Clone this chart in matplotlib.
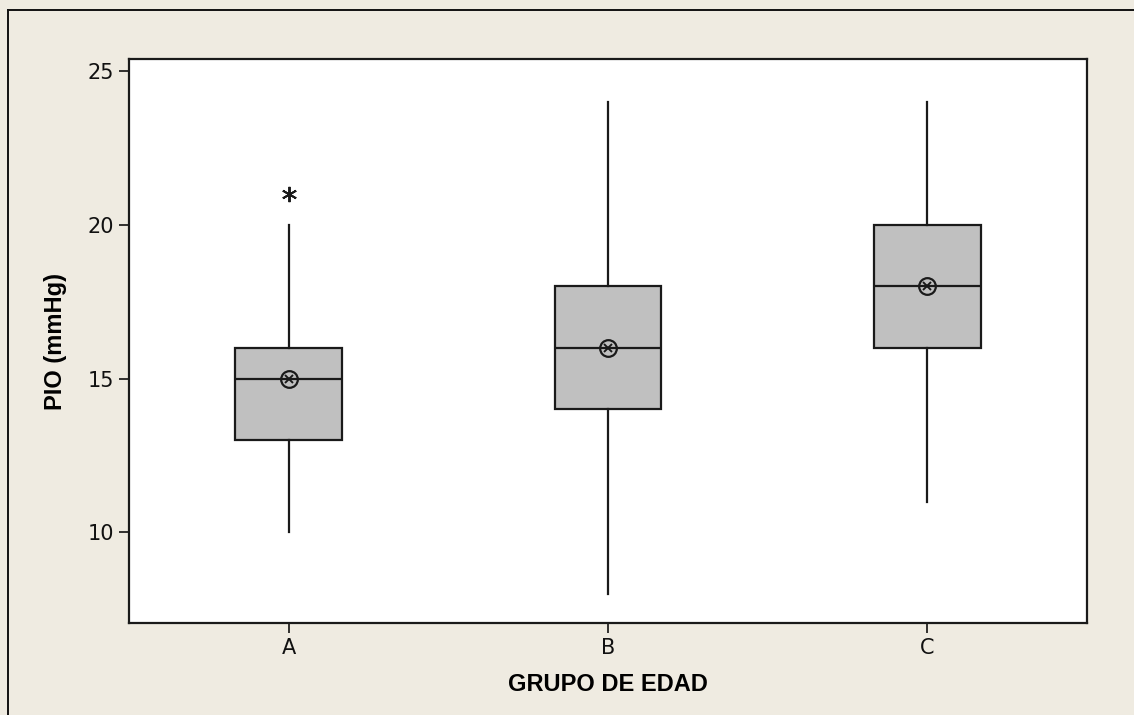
import matplotlib
matplotlib.use("Agg")
import matplotlib.pyplot as plt
from matplotlib.lines import Line2D

groups = ["A", "B", "C"]
whis_lo = [10, 8, 11]
q1 = [13, 14, 16]
medians = [15, 16, 18]
q3 = [16, 18, 20]
whis_hi = [20, 24, 24]
means = [15, 16, 18]
outliers = [[21], [], []]

bg = "#EFEBE1"
W, H = 1134, 715
fig = plt.figure(figsize=(W / 100, H / 100), dpi=100, facecolor=bg)
ax = fig.add_axes([129 / W, 1 - 623 / H, (1087 - 129) / W, (623 - 59) / H])
ax.set_facecolor("white")

stats = []
for i, g in enumerate(groups):
    stats.append(dict(label=g, whislo=whis_lo[i], q1=q1[i], med=medians[i],
                      q3=q3[i], whishi=whis_hi[i], mean=means[i], fliers=outliers[i]))

pos = list(range(1, len(groups) + 1))
ax.bxp(stats, positions=pos, widths=0.335, patch_artist=True, showcaps=False,
       boxprops=dict(facecolor="#C0C0C0", edgecolor="#1a1a1a", linewidth=1.6),
       medianprops=dict(color="#1a1a1a", linewidth=1.6),
       whiskerprops=dict(color="#1a1a1a", linewidth=1.6),
       flierprops=dict(marker=(6, 2, 0), markersize=11, markeredgecolor="#1a1a1a",
                       markeredgewidth=1.4, linestyle="none"))

# mean symbol: circle with a cross inside
ax.plot(pos, means, linestyle="none", marker="o", markersize=12,
        markerfacecolor="none", markeredgecolor="#1a1a1a", markeredgewidth=1.6, zorder=5)
ax.plot(pos, means, linestyle="none", marker="x", markersize=6,
        markeredgecolor="#1a1a1a", markeredgewidth=1.4, zorder=5)

ax.set_xlim(0.5, 3.5)
ax.set_ylim(7.05, 25.4)
ax.set_yticks([10, 15, 20, 25])
ax.set_xticks(pos)
ax.set_xticklabels(groups)
ax.tick_params(axis="both", direction="out", length=7, width=1.2, labelsize=15, colors="#111111")
for s in ax.spines.values():
    s.set_linewidth(1.6)
    s.set_color("#1a1a1a")

lab_font = ["Liberation Sans Narrow", "Liberation Sans", "DejaVu Sans"]
ax.set_xlabel("GRUPO DE EDAD", fontsize=17, fontweight="bold", family=lab_font, labelpad=11)
ax.set_ylabel("PIO (mmHg)", fontsize=17, fontweight="bold", family=lab_font, labelpad=15)

# outer frame lines (left and top only)
fig.add_artist(Line2D([8 / W, 8 / W], [0, 1 - 10 / H], color="#111111", linewidth=1.4))
fig.add_artist(Line2D([8 / W, 1], [1 - 10 / H, 1 - 10 / H], color="#111111", linewidth=1.4))

fig.savefig("out.png", dpi=100, facecolor=bg)
